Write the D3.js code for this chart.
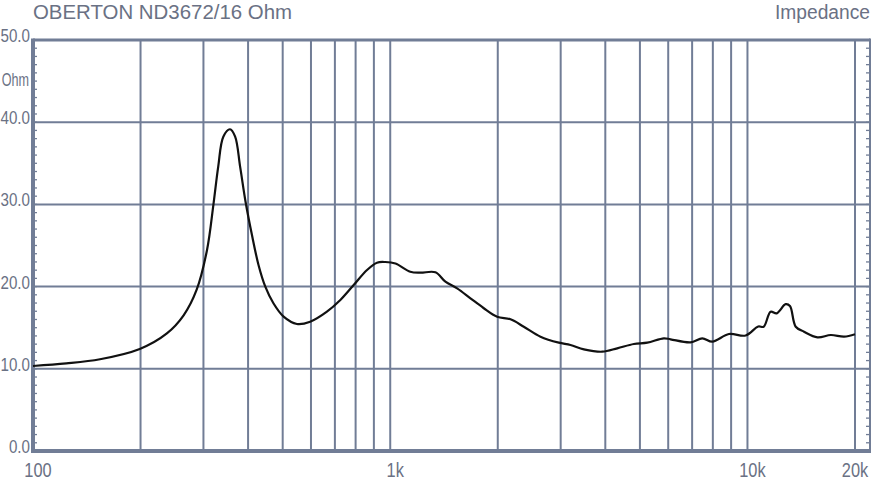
<!DOCTYPE html>
<html>
<head>
<meta charset="utf-8">
<script src="https://cdn.jsdelivr.net/npm/d3@7"></script>
<style>
  html, body { margin: 0; padding: 0; background: #ffffff; }
  svg { display: block; }
  text { font-family: "Liberation Sans", Arial, sans-serif; fill: #6a7184; }
</style>
</head>
<body>
<svg id="chart" width="875" height="481"></svg>
<script>
// ---- data ----
const title = "OBERTON ND3672/16 Ohm";
const subtitle = "Impedance";
const unitLabel = "Ohm";
const freqs = [100,124,154,199,237,264,287,307,320,330,341,356,368,380,394,410,428,447,471,503,548,597,665,725,790,861,918,969,1034,1138,1214,1338,1427,1539,1677,1824,1992,2171,2365,2634,2964,3196,3484,3921,4320,4808,5243,5834,6092,6931,7474,7972,8875,9883,10720,11100,11610,12070,12790,13150,13650,14400,15700,17120,18640,20000];
const ohms = [10.34,10.65,11.16,12.41,14.3,16.5,19.59,24.45,30.01,34.59,38.24,39.14,38.24,34.59,30.2,26.3,22.6,19.99,17.97,16.34,15.45,15.73,16.95,18.37,20.19,22.02,22.91,22.99,22.81,21.81,21.69,21.74,20.60,19.79,18.58,17.40,16.34,16.02,15.12,13.91,13.18,12.90,12.37,12.08,12.49,13.02,13.18,13.71,13.59,13.22,13.71,13.30,14.23,14.05,15.15,15.12,16.95,16.75,17.86,17.64,15.12,14.51,13.83,14.11,13.91,14.20];
const xGridValues = [200,300,400,500,600,700,800,900,1000,2000,3000,4000,5000,6000,7000,8000,9000,10000,20000];
const xTickValues = [100,1000,10000,20000];
const xTickLabels = ["100","1k","10k","20k"];
const yTickValues = [0,10,20,30,40,50];
const yTickLabels = ["0.0","10.0","20.0","30.0","40.0","50.0"];
const yMinorValues = d3.range(1,50);

// ---- layout ----
const gridColor = "#717d96";
const pL = 33, pR = 870, pT = 40, pB = 451, xEnd = 855;
const svg = d3.select("#chart");
const x = d3.scaleLog().domain([100,20000]).range([pL, xEnd]);
const y = d3.scaleLinear().domain([0,50]).range([pB, pT]);

// grid
svg.append("g").selectAll("line").data(xGridValues).join("line")
  .attr("x1", d => x(d)).attr("x2", d => x(d))
  .attr("y1", pT).attr("y2", pB)
  .attr("stroke", gridColor).attr("stroke-width", 2);
svg.append("g").selectAll("line").data(yTickValues.filter(v => v > 0 && v < 50)).join("line")
  .attr("x1", pL).attr("x2", pR)
  .attr("y1", d => y(d)).attr("y2", d => y(d))
  .attr("stroke", gridColor).attr("stroke-width", 2);

// minor ticks left/right
svg.append("g").selectAll("line").data(yMinorValues).join("line")
  .attr("x1", pL).attr("x2", pL + 4)
  .attr("y1", d => y(d)).attr("y2", d => y(d))
  .attr("stroke", gridColor).attr("stroke-width", 1.3);
svg.append("g").selectAll("line").data(yMinorValues).join("line")
  .attr("x1", pR - 4).attr("x2", pR)
  .attr("y1", d => y(d)).attr("y2", d => y(d))
  .attr("stroke", gridColor).attr("stroke-width", 1.3);

// frame
svg.append("line").attr("x1", pL).attr("x2", pR).attr("y1", pT).attr("y2", pT)
  .attr("stroke", gridColor).attr("stroke-width", 3);
svg.append("line").attr("x1", pR).attr("x2", pR).attr("y1", pT - 1.5).attr("y2", pB)
  .attr("stroke", gridColor).attr("stroke-width", 2);
svg.append("line").attr("x1", pL).attr("x2", pL).attr("y1", pT - 1.5).attr("y2", pB + 2)
  .attr("stroke", gridColor).attr("stroke-width", 4);
svg.append("line").attr("x1", pL - 2).attr("x2", pR + 1).attr("y1", pB).attr("y2", pB)
  .attr("stroke", gridColor).attr("stroke-width", 4);

// curve
const pts = freqs.map((f, i) => [x(f), y(ohms[i])]);
svg.append("path")
  .attr("d", d3.line().curve(d3.curveCatmullRom.alpha(0.5))(pts))
  .attr("fill", "none").attr("stroke", "#111111").attr("stroke-width", 2.2)
  .attr("stroke-linejoin", "round");

// y labels
const sx = 0.82;
svg.append("g").selectAll("text").data(yTickValues).join("text")
  .attr("transform", d => `translate(30,${y(d) + 2}) scale(${sx},1)`)
  .attr("text-anchor", "end").attr("font-size", 18.5)
  .text((d, i) => yTickLabels[i]);
svg.append("text")
  .attr("transform", `translate(29,${y(45) + 5}) scale(0.72,1)`)
  .attr("text-anchor", "end").attr("font-size", 17.5)
  .text(unitLabel);

// x labels
svg.append("g").selectAll("text").data(xTickValues).join("text")
  .attr("transform", d => {
    let cx = x(d) + 5;
    if (d === 20000) cx = x(d);
    return `translate(${cx},477) scale(${sx},1)`;
  })
  .attr("text-anchor", "middle").attr("font-size", 20)
  .text((d, i) => xTickLabels[i]);

// title
svg.append("text").attr("x", 33).attr("y", 19).attr("font-size", 20)
  .attr("textLength", 259).attr("lengthAdjust", "spacingAndGlyphs")
  .text(title);
svg.append("text").attr("x", 775).attr("y", 19).attr("font-size", 20)
  .attr("textLength", 95).attr("lengthAdjust", "spacingAndGlyphs")
  .text(subtitle);
</script>
</body>
</html>
